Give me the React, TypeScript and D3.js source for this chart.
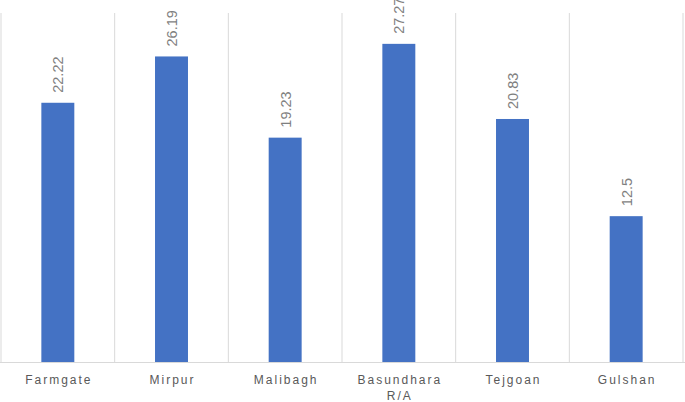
import React from "react";
import * as d3 from "d3";

const categories = ["Farmgate", "Mirpur", "Malibagh", "Basundhara R/A", "Tejgoan", "Gulshan"];
const values = [22.22, 26.19, 19.23, 27.27, 20.83, 12.5];
const valueLabels = ["22.22", "26.19", "19.23", "27.27", "20.83", "12.5"];

export default function App() {
  const W = 685, H = 402;
  const left = 1, right = 683, top = 12, bottom = 362;
  const x = d3.scaleBand<string>().domain(categories).range([left, right]).paddingInner(0).paddingOuter(0);
  const y = d3.scaleLinear().domain([0, 30]).range([bottom, top]);
  const bw = x.bandwidth() * 0.29;
  const bounds = [...categories.map((c) => x(c)!), right];
  return (
    <svg width={W} height={H} style={{ position: "absolute", left: 0, top: 0, background: "#fff" }}>
      {bounds.map((b, i) => (
        <line key={i} x1={b} x2={b} y1={13} y2={bottom} stroke="#d9d9d9" strokeWidth={1} />
      ))}
      <line x1={0} x2={W} y1={bottom + 0.5} y2={bottom + 0.5} stroke="#d9d9d9" strokeWidth={1} />
      {categories.map((c, i) => {
        const cx = x(c)! + x.bandwidth() / 2;
        const yt = y(values[i]);
        const lines = c === "Basundhara R/A" ? ["Basundhara", "R/A"] : [c];
        return (
          <g key={c}>
            <rect x={cx - bw / 2} y={yt} width={bw} height={bottom - yt} fill="#4472C4" />
            <text
              transform={`translate(${cx + 0.5},${yt - 10}) rotate(-90)`}
              fontFamily="Liberation Sans, Arial, sans-serif"
              fontSize={14.5}
              fill="#7f7f7f"
              dominantBaseline="central"
            >
              {valueLabels[i]}
            </text>
            {lines.map((l, j) => (
              <text
                key={j}
                x={cx + 1}
                y={384 + j * 16}
                textAnchor="middle"
                fontFamily="Liberation Sans, Arial, sans-serif"
                fontSize={12}
                letterSpacing={2}
                fill="#595959"
              >
                {l}
              </text>
            ))}
          </g>
        );
      })}
    </svg>
  );
}
